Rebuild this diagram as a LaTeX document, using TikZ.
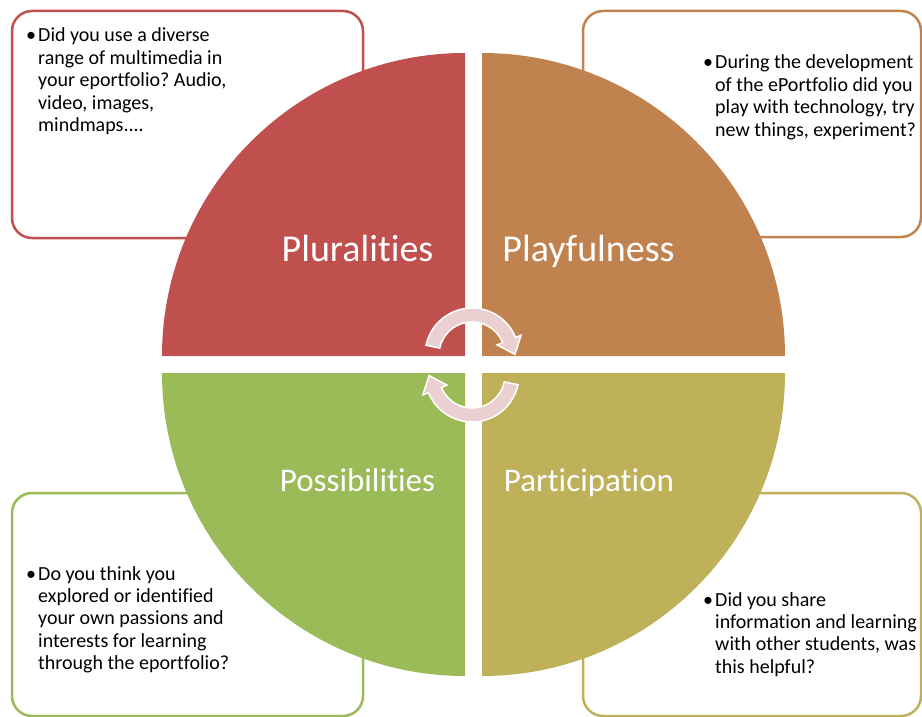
\documentclass[tikz,border=0pt]{standalone}
\usepackage{fontspec}
\setmainfont{Carlito}[Ligatures={NoCommon}]
\frenchspacing
\definecolor{qred}{HTML}{C0504D}
\definecolor{qorange}{HTML}{C08350}
\definecolor{qgreen}{HTML}{9BBB59}
\definecolor{qolive}{HTML}{BFB15A}
\definecolor{arrowpink}{HTML}{EAD0D0}
\begin{document}
\begin{tikzpicture}[x=1pt,y=1pt,
  qbox/.style={line width=2.5pt, rounded corners=20pt},
  qtext/.style={anchor=base west, inner sep=0pt, font=\fontsize{20}{22.4}\selectfont},
  qlabel/.style={anchor=base, inner sep=0pt, text=white, font=\fontsize{38}{44}\selectfont},
  qlabelsmall/.style={qlabel, font=\fontsize{33}{40}\selectfont},
  cyc/.style={fill=arrowpink, draw=white, line width=1.5pt, line join=miter}
]
\useasboundingbox (0,0) rectangle (922,-717);
% boxes
\draw[qbox, qred]    (12,-11) rectangle (363,-238);
\draw[qbox, qorange] (583,-11) rectangle (921,-237);
\draw[qbox, qgreen]  (12,-493) rectangle (363,-716);
\draw[qbox, qolive]  (583,-493) rectangle (921,-716);
% quadrants
\fill[qred]    (465,-356) -- ++(-303,0) arc[start angle=180,end angle=90,radius=303pt] -- cycle;
\fill[qorange] (482,-356) -- ++(0,303) arc[start angle=90,end angle=0,radius=303pt] -- cycle;
\fill[qgreen]  (465,-373) -- ++(-303,0) arc[start angle=180,end angle=270,radius=303pt] -- cycle;
\fill[qolive]  (482,-373) -- ++(303,0) arc[start angle=0,end angle=-90,radius=303pt] -- cycle;
% labels
\node[qlabel] (l1) at (357.5,-261) {Pluralities};
\node[qlabel] (l2) at (588.5,-261) {Playfulness};
\node[qlabelsmall] (l3) at (357.5,-491) {Possibilities};
\node[qlabelsmall] (l4) at (589,-491) {Participation};
% circular arrows
\coordinate (cc) at (472,-365);
\foreach \r in {0,180}{
\begin{scope}[rotate around={\r:(cc)}]
\draw[cyc] ([shift={(472,-355)}]168:47pt) arc[start angle=168,end angle=22,radius=47pt]
  -- ([shift={(472,-355)}]22:53pt)
  -- (514.9,-354.4)
  -- ([shift={(472,-355)}]22:27pt)
  -- ([shift={(472,-355)}]22:33pt) arc[start angle=22,end angle=168,radius=33pt]
  -- cycle;
\end{scope}}
% texts
\node[qtext] (b1) at (26,-42) {\textbullet};
\node[qtext] (t1) at (38,-42) {\parbox[t]{320pt}{\raggedright Did you use a diverse\\range of multimedia in\\your eportfolio? Audio,\\video, images,\\mindmaps....}};
\node[qtext] (b2) at (703,-69) {\textbullet};
\node[qtext] (t2) at (715,-69) {\parbox[t]{220pt}{\raggedright During the development\\of the ePortfolio did you\\play with technology, try\\new things, experiment?}};
\node[qtext] (b3) at (26,-580) {\textbullet};
\node[qtext] (t3) at (38,-580) {\parbox[t]{320pt}{\raggedright Do you think you\\explored or identified\\your own passions and\\interests for learning\\through the eportfolio?}};
\node[qtext] (b4) at (703,-606) {\textbullet};
\node[qtext] (t4) at (715,-606) {\parbox[t]{220pt}{\raggedright Did you share\\information and learning\\with other students, was\\this helpful?}};
\end{tikzpicture}
\end{document}
